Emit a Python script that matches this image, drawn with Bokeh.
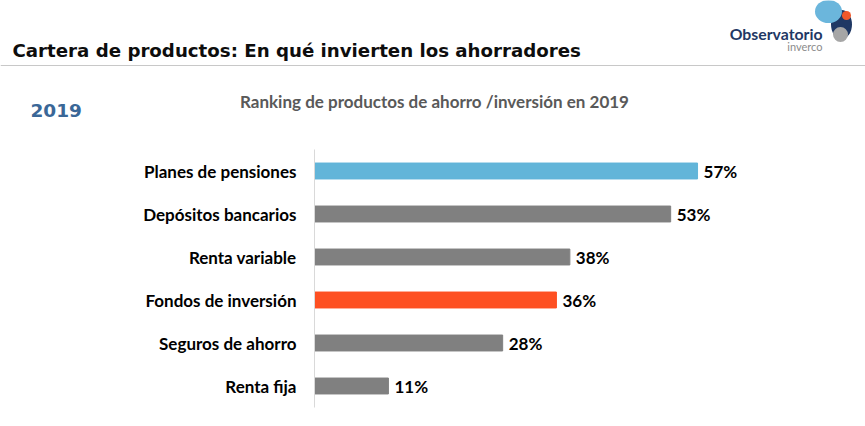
from bokeh.plotting import figure
from bokeh.layouts import column
from bokeh.models import FactorRange, Range1d, Span, ColumnDataSource
from bokeh.core.properties import value
from bokeh.embed import file_html
from bokeh.resources import INLINE

categories = ["Planes de pensiones", "Depósitos bancarios", "Renta variable",
              "Fondos de inversión", "Seguros de ahorro", "Renta fija"]
values = [57, 53, 38, 36, 28, 11]
colors = ["#62b5d9", "#808080", "#808080", "#fe5022", "#808080", "#808080"]
value_labels = [f"{v}%" for v in values]

title_text = "Cartera de productos: En qué invierten los ahorradores"
year_text = "2019"
subtitle_text = "Ranking de productos de ahorro /inversión en 2019"

W = 865
H1 = 140          # header height
H2 = 280          # chart height
FL = 314          # chart frame left

# ---------------- header (pixel-space figure) ----------------
hd = figure(width=W, height=H1, output_backend="svg", toolbar_location=None,
            x_range=Range1d(0, W), y_range=Range1d(H1, 0),
            min_border=0, min_border_left=0, min_border_right=0,
            min_border_top=0, min_border_bottom=0)
hd.axis.visible = False
hd.grid.visible = False
hd.outline_line_color = None

hd.text(x=[12], y=[50], text=[title_text], text_font=value("DejaVu Sans"),
        text_font_style="bold", text_font_size="18.2px", text_color="#0d0d0d",
        text_baseline="middle")
hd.text(x=[30], y=[110], text=[year_text], text_font=value("DejaVu Sans"),
        text_font_style="bold", text_font_size="18.5px", text_color="#3a6797",
        text_baseline="middle")
hd.text(x=[434], y=[101], text=[subtitle_text], text_font=value("Lato"),
        text_font_style="bold", text_font_size="17px", text_color="#595959",
        text_baseline="middle", text_align="center")
hd.add_layout(Span(location=65, dimension="width", line_color="#c8c8c8", line_width=1.2))

# logo
hd.ellipse(x=[841], y=[24], width=21, height=29, fill_color="#1f3864", line_color=None)
hd.ellipse(x=[828], y=[11], width=27, height=23, fill_color="#6bb6dc", line_color=None)
hd.circle(x=[846], y=[15], radius=4.5, fill_color="#f0582a", line_color=None)
hd.circle(x=[840], y=[34], radius=7.5, fill_color="#a6a6a6", line_color=None)
hd.text(x=[822], y=[33], text=["Observatorio"], text_font=value("Lato"),
        text_font_style="bold", text_font_size="15.8px", text_color="#1f3864",
        text_baseline="middle", text_align="right")
hd.text(x=[822], y=[46], text=["inverco"], text_font=value("Lato"),
        text_font_size="11px", text_color="#8c8c8c",
        text_baseline="middle", text_align="right")

# ---------------- chart ----------------
src = ColumnDataSource(dict(cat=categories, val=values, col=colors, lab=value_labels))
p = figure(width=W, height=H2, output_backend="svg", toolbar_location=None,
           y_range=FactorRange(factors=categories[::-1]), x_range=Range1d(0, 75),
           min_border_left=FL, min_border_right=W - 818, min_border_top=149 - H1,
           min_border_bottom=H1 + H2 - 407)
p.outline_line_color = None
p.grid.visible = False
p.xaxis.visible = False
p.yaxis.axis_line_color = "#d9d9d9"
p.yaxis.major_tick_line_color = None
p.yaxis.minor_tick_line_color = None
p.yaxis.major_tick_out = 0
p.yaxis.major_tick_in = 0
p.yaxis.major_label_text_font = "Lato"
p.yaxis.major_label_text_font_style = "bold"
p.yaxis.major_label_text_font_size = "17px"
p.yaxis.major_label_text_color = "#000000"
p.yaxis.major_label_standoff = 18

p.hbar(y="cat", right="val", left=0, height=0.37, color="col", source=src)
p.text(x="val", y="cat", text="lab", source=src, x_offset=6,
       text_baseline="middle", text_font_size="17px", text_font_style="bold",
       text_color="#000000", text_font=value("Lato"))

layout = column(column(hd), column(p), spacing=0)
open("out.html", "w").write(file_html(layout, INLINE))
